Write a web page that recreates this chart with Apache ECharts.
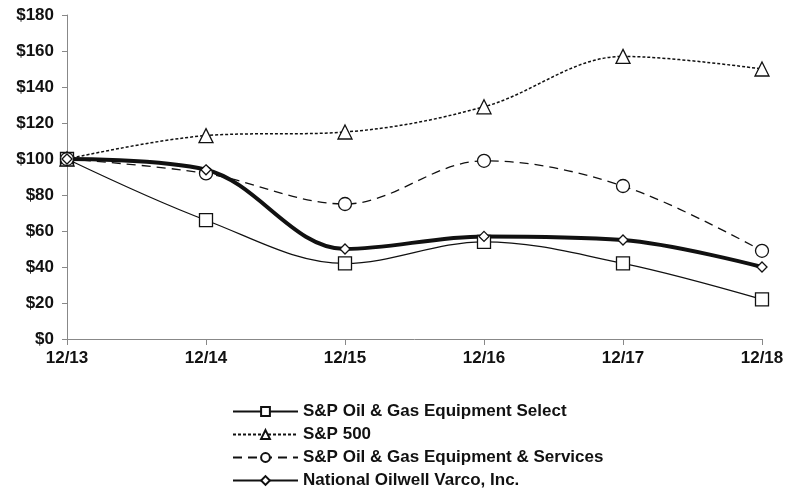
<!DOCTYPE html>
<html>
<head>
<meta charset="utf-8">
<script src="https://cdn.jsdelivr.net/npm/echarts@6/dist/echarts.min.js"></script>
<style>
  html, body { margin: 0; padding: 0; background: #fff; }
  #chart { width: 787px; height: 495px; }
</style>
</head>
<body>
<div id="chart"></div>
<script>
const years = ['12/13', '12/14', '12/15', '12/16', '12/17', '12/18']
const oilGasSelect = [100, 66, 42, 54, 42, 22]
const sp500 = [100, 113, 115, 129, 157, 150]
const oilGasServices = [100, 92, 75, 99, 85, 49]
const nov = [100, 94, 50, 57, 55, 40]

const chart = echarts.init(document.getElementById('chart'))

const font = 'Liberation Sans, Arial, sans-serif'

const mkSeries = (name, data, symbol, size, lineStyle) => ({
  name,
  type: 'line',
  data,
  smooth: 0.35,
  symbol,
  symbolSize: size,
  showSymbol: true,
  itemStyle: { color: '#fff', borderColor: '#111', borderWidth: 1.3 },
  lineStyle: Object.assign({ color: '#111' }, lineStyle),
  emphasis: { disabled: true }
})

const option = {
  animation: false,
  backgroundColor: '#fff',
  grid: { left: 67, right: 25, top: 15, bottom: 156 },
  xAxis: {
    type: 'category',
    data: years,
    boundaryGap: false,
    axisLine: { lineStyle: { color: '#888', width: 1 } },
    axisTick: { show: true, alignWithLabel: true, length: 6, lineStyle: { color: '#888' } },
    axisLabel: { color: '#111', fontFamily: font, fontWeight: 'bold', fontSize: 17, margin: 11 }
  },
  yAxis: {
    type: 'value',
    min: 0,
    max: 180,
    interval: 20,
    splitLine: { show: false },
    axisLine: { show: true, lineStyle: { color: '#888', width: 1 } },
    axisTick: { show: true, length: 5, lineStyle: { color: '#888' } },
    axisLabel: {
      color: '#111', fontFamily: font, fontWeight: 'bold', fontSize: 17, margin: 13,
      formatter: v => '$' + v
    }
  },
  legend: {
    orient: 'vertical',
    left: 232,
    top: 403,
    height: 92,
    padding: 0,
    itemWidth: 65,
    itemHeight: 11,
    itemGap: 6,
    textStyle: { color: '#111', fontFamily: font, fontWeight: 'bold', fontSize: 17 },
    data: ['S&P Oil & Gas Equipment Select', 'S&P 500', 'S&P Oil & Gas Equipment & Services', 'National Oilwell Varco, Inc.']
  },
  series: [
    mkSeries('S&P Oil & Gas Equipment Select', oilGasSelect, 'rect', 13, { width: 1.2 }),
    mkSeries('S&P 500', sp500, 'triangle', 14, { width: 1.5, type: [3, 2] }),
    mkSeries('S&P Oil & Gas Equipment & Services', oilGasServices, 'circle', 13, { width: 1.3, type: [9, 6] }),
    mkSeries('National Oilwell Varco, Inc.', nov, 'diamond', 10, { width: 4 })
  ]
}

chart.setOption(option)
</script>
</body>
</html>
